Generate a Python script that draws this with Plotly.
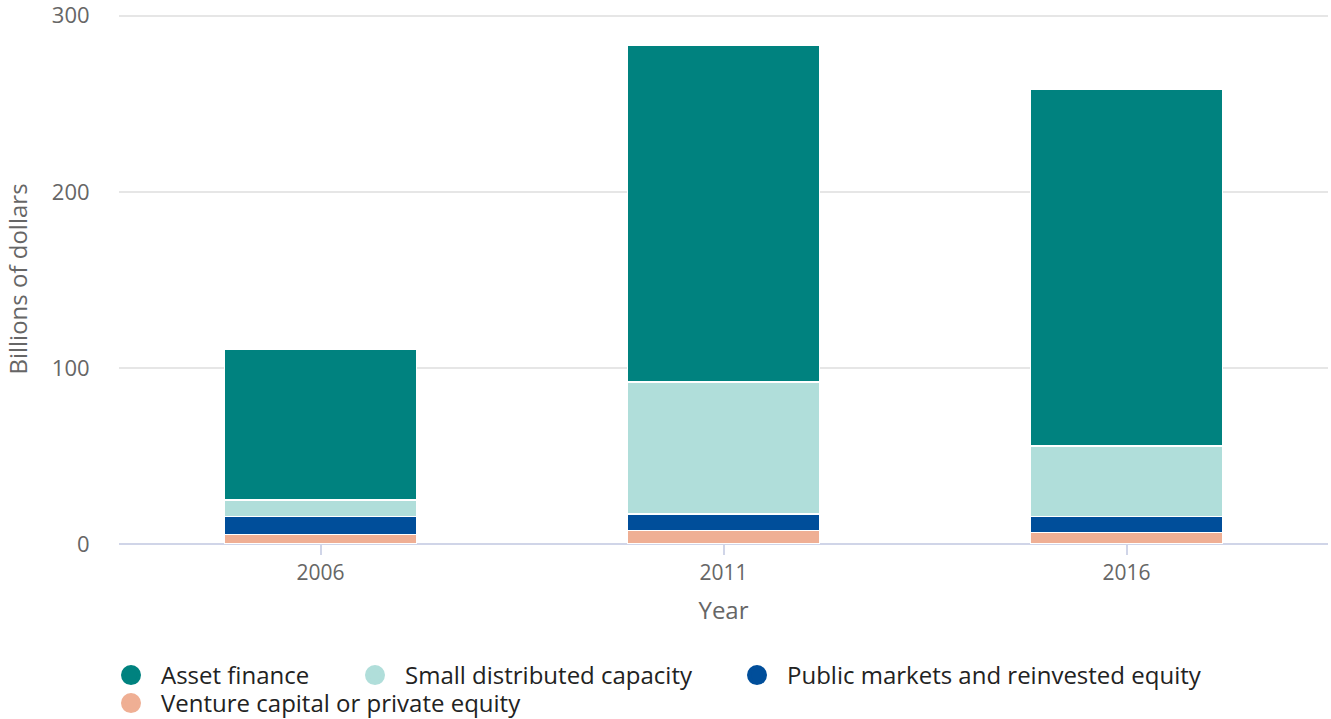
import plotly.graph_objects as go

years = ["2006", "2011", "2016"]
venture = [5.3, 7.6, 6.4]
public = [10.2, 9.4, 9.1]
small = [9.5, 75.0, 40.2]
asset = [85.8, 191.5, 202.8]

series = [
    ("Venture capital or private equity", venture, "rgb(239,175,148)", "legend4"),
    ("Public markets and reinvested equity", public, "rgb(0,78,154)", "legend3"),
    ("Small distributed capacity", small, "rgb(176,222,218)", "legend2"),
    ("Asset finance", asset, "rgb(0,130,127)", "legend"),
]

fig = go.Figure()
for name, vals, col, lg in series:
    fig.add_trace(go.Bar(
        x=years, y=vals, name=name, legendgroup=name, showlegend=False,
        marker=dict(color=col, line=dict(color="white", width=1.5)),
        width=0.476,
    ))
# legend entries with circular symbols
for name, vals, col, lg in series:
    fig.add_trace(go.Scatter(
        x=[None], y=[None], mode="markers", name=name, legendgroup=name,
        legend=lg,
        marker=dict(color=col, size=16, symbol="circle", line=dict(color=col, width=4)),
    ))

font = "Open Sans"
legfont = dict(size=24, color="#222222", family=font)
W, H = 1331, 719


def leg(x, y):
    return dict(
        orientation="h", xref="container", yref="container",
        x=x / W, xanchor="left", y=1 - y / H, yanchor="top",
        font=legfont, itemwidth=50, bgcolor="rgba(0,0,0,0)",
    )


ymax = 301.0
plot_h = 528 * ymax / 300
fig.update_layout(
    barmode="stack",
    width=W, height=H,
    paper_bgcolor="white", plot_bgcolor="white",
    margin=dict(l=119, r=3, t=544 - plot_h, b=175, autoexpand=False),
    font=dict(family=font, size=21, color="#666666"),
    legend=leg(101, 653),
    legend2=leg(345, 653),
    legend3=leg(727, 653),
    legend4=leg(101, 681),
    xaxis=dict(
        title=dict(text="Year", font=dict(size=24, color="#666666"), standoff=16),
        type="category", automargin=False,
        ticks="outside", ticklen=10, tickcolor="#d0d5e8", tickwidth=2,
        showline=False, showgrid=False,
        tickfont=dict(size=21, color="#666666"),
    ),
    yaxis=dict(
        title=dict(text="Billions of dollars", font=dict(size=24, color="#666666"), standoff=17),
        range=[0, ymax], tickvals=[0, 100, 200, 300], automargin=False,
        ticklabeloverflow="allow",
        showgrid=True, gridcolor="#e6e6e6", gridwidth=2,
        zeroline=True, zerolinecolor="#d0d5e8", zerolinewidth=2,
        tickfont=dict(size=22, color="#666666"),
        ticks="outside", ticklen=24, tickcolor="rgba(0,0,0,0)",
    ),
)
fig.write_html("out.html", config={"displayModeBar": False},
               post_script="document.body.style.margin='0';")
